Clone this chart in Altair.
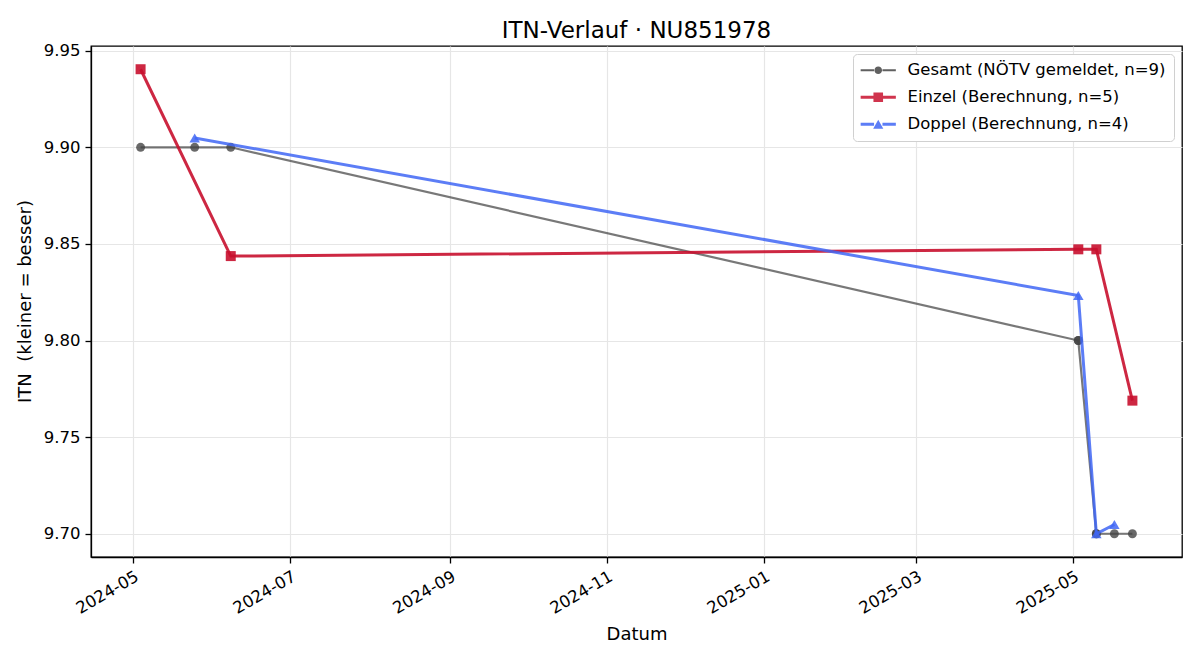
import altair as alt
import pandas as pd

# ---- data ----
series_names = [
    "Gesamt (NÖTV gemeldet, n=9)",
    "Einzel (Berechnung, n=5)",
    "Doppel (Berechnung, n=4)",
]
series_colors = ["#444444", "#C8102E", "#4066F4"]

gesamt_dates = ["2024-05-04", "2024-05-25", "2024-06-08", "2025-05-03", "2025-05-03",
                "2025-05-10", "2025-05-10", "2025-05-17", "2025-05-24"]
gesamt_vals = [9.90, 9.90, 9.90, 9.80, 9.80, 9.70, 9.70, 9.70, 9.70]

einzel_dates = ["2024-05-04", "2024-06-08", "2025-05-03", "2025-05-10", "2025-05-24"]
einzel_vals = [9.9404, 9.8437, 9.8472, 9.8472, 9.7689]

doppel_dates = ["2024-05-25", "2025-05-03", "2025-05-10", "2025-05-17"]
doppel_vals = [9.9048, 9.8233, 9.7000, 9.7048]

x_tick_months = [(2024, 5), (2024, 7), (2024, 9), (2024, 11), (2025, 1), (2025, 3), (2025, 5)]
y_ticks = [9.70, 9.75, 9.80, 9.85, 9.90, 9.95]

FONT = "DejaVu Sans"

df_g = pd.DataFrame({"Datum": gesamt_dates, "ITN": gesamt_vals, "Serie": series_names[0]})
df_e = pd.DataFrame({"Datum": einzel_dates, "ITN": einzel_vals, "Serie": series_names[1]})
df_d = pd.DataFrame({"Datum": doppel_dates, "ITN": doppel_vals, "Serie": series_names[2]})

x_scale = alt.Scale(
    type="utc",
    domain=[alt.DateTime(year=2024, month=4, date=14, hours=18, utc=True),
            alt.DateTime(year=2025, month=6, date=12, hours=6, utc=True)],
)
y_scale = alt.Scale(domain=[9.68798, 9.95242], zero=False, nice=False)

x_axis = alt.Axis(
    title="Datum",
    values=[alt.DateTime(year=y, month=m, date=1, utc=True) for y, m in x_tick_months],
    labelExpr="utcFormat(datum.value, '%Y-%m')",
    labelAngle=-30,
    labelAlign="right",
    labelBaseline="top",
    labelPadding=5,
    titleY=82,
    titleBaseline="alphabetic",
)
y_axis = alt.Axis(
    title="ITN\u00a0 (kleiner = besser)",
    values=y_ticks,
    format=".2f",
    titleX=-61,
    titleY=255,
    titleAngle=-90,
    titleAlign="center",
    titleBaseline="alphabetic",
)


def series_layers(df, color, shape, size, width, line_op, pt_op):
    base = alt.Chart(df).encode(
        x=alt.X("Datum:T", scale=x_scale, axis=x_axis),
        y=alt.Y("ITN:Q", scale=y_scale, axis=y_axis),
    )
    line = base.mark_line(color=color, strokeWidth=width, opacity=line_op)
    pts = base.mark_point(shape=shape, filled=True, size=size, color=color,
                          opacity=pt_op, strokeWidth=0)
    return [line, pts]


layers = []
layers += series_layers(df_g, series_colors[0], "circle", 80, 2.2, 0.72, 0.8)
layers += series_layers(df_e, series_colors[1], "square", 100, 3.0, 0.9, 0.9)
layers += series_layers(df_d, series_colors[2], "triangle-up", 110, 3.0, 0.85, 0.85)

# legend symbols: line segment + marker, as custom paths (units of 4 px)
seg = "M-4.4,-{h}L-1.05,-{h}L-1.05,{h}L-4.4,{h}Z M1.05,-{h}L4.4,-{h}L4.4,{h}L1.05,{h}Z "
legend_paths = [
    seg.format(h=0.27) + "M0.95,0A0.95,0.95 0 1,1 -0.95,0A0.95,0.95 0 1,1 0.95,0Z",
    seg.format(h=0.38) + "M-1.2,-1.2L1.2,-1.2L1.2,1.2L-1.2,1.2Z",
    seg.format(h=0.38) + "M0,-1.1L1.27,1.1L-1.27,1.1Z",
]
df_leg = pd.DataFrame({"Serie": series_names, "ITN": [0, 0, 0]})
legend_layer = alt.Chart(df_leg).transform_filter("datum.ITN > 1").mark_point(
    filled=True, opacity=0.85
).encode(
    color=alt.Color("Serie:N", scale=alt.Scale(domain=series_names, range=series_colors),
                    title=None, sort=series_names),
    shape=alt.Shape("Serie:N", scale=alt.Scale(domain=series_names, range=legend_paths),
                    title=None, sort=series_names),
)
layers.append(legend_layer)

chart = alt.layer(*layers).properties(
    width=1091,
    height=511,
    title=alt.TitleParams(
        "ITN-Verlauf · NU851978",
        font=FONT, fontSize=23, fontWeight="normal", color="black",
        anchor="middle", baseline="alphabetic", offset=9, dy=27, frame="group",
    ),
    autosize=alt.AutoSizeParams(type="none"),
    padding={"left": 91, "top": 46, "right": 18, "bottom": 103},
).configure(
    background="white",
).configure_view(
    stroke="black", strokeWidth=1.3,
).configure_axis(
    labelFont=FONT, labelFontSize=16.5, labelColor="black",
    titleFont=FONT, titleFontSize=18, titleFontWeight="normal", titleColor="black",
    domain=True, domainColor="black", domainWidth=1.3,
    ticks=True, tickColor="black", tickWidth=1.3, tickSize=6,
    grid=True, gridColor="#e6e6e6", gridWidth=1.2,
    labelPadding=5,
).configure_legend(
    orient="none", legendX=762, legendY=8,
    labelFont=FONT, labelFontSize=16.5, labelColor="black", labelLimit=0,
    symbolSize=64, symbolStrokeWidth=0, symbolOffset=9,
    labelOffset=21, rowPadding=10, padding=8,
    strokeColor="#d0d0d0", fillColor="white", cornerRadius=4,
)

chart.save("out.html", embed_options={"renderer": "svg", "actions": False})
